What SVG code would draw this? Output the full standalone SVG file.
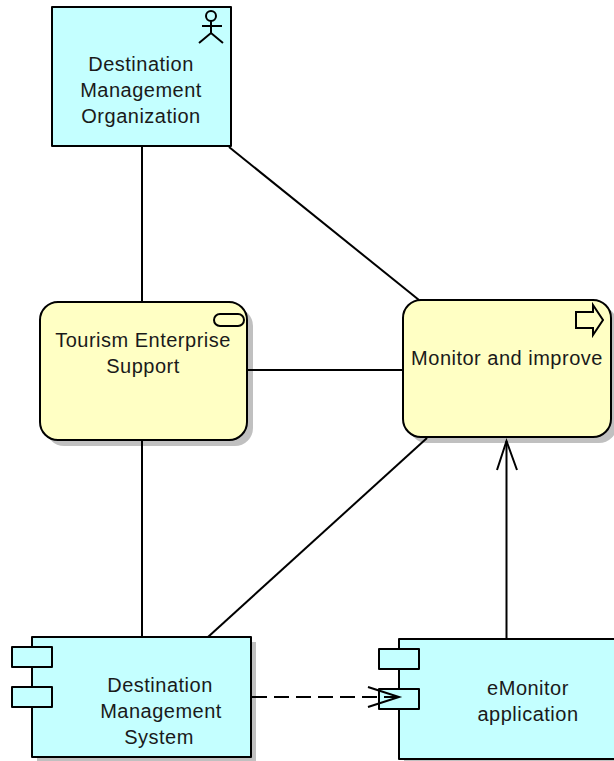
<svg xmlns="http://www.w3.org/2000/svg" width="614" height="761" viewBox="0 0 614 761">
<style>
.n{stroke:#000;stroke-width:2;stroke-linejoin:round}
.c{fill:#c4ffff}.y{fill:#ffffc4}
.s{fill:#c0c0c0;stroke:none}
.l{fill:none;stroke:#000;stroke-width:2}
text{font-family:"Liberation Sans",Arial,sans-serif;font-size:20px;fill:#1a1a1a;text-anchor:middle;letter-spacing:.5px}
</style>
<rect width="614" height="761" fill="#fff"/>
<g id="org">
<rect class="n c" x="52" y="7" width="179" height="139"/>
<circle cx="211" cy="16" r="5" fill="none" stroke="#000" stroke-width="2"/>
<path class="l" d="M211 21V33M202 26H222M199 43L211 33L223 43"/>
<text x="141" y="71">Destination</text>
<text x="141" y="97">Management</text>
<text x="141" y="123">Organization</text>
</g>
<g id="tourism">
<rect class="s" x="46" y="308" width="207" height="138" rx="18"/>
<rect class="n y" x="40" y="302" width="207" height="138" rx="18"/>
<rect class="l" x="214" y="314" width="30" height="12" rx="6"/>
<text x="143" y="347">Tourism Enterprise</text>
<text x="143" y="373">Support</text>
</g>
<g id="monitor">
<rect class="s" x="409" y="306" width="208" height="137" rx="18"/>
<rect class="n y" x="403" y="300" width="208" height="137" rx="18"/>
<path class="l" d="M576 312H593V305L603 320L593 335V328H576Z"/>
<text x="507" y="365">Monitor and improve</text>
</g>
<g id="dms">
<rect class="s" x="37" y="642" width="219" height="120"/>
<rect class="n c" x="32" y="637" width="219" height="120"/>
<rect class="n c" x="12" y="647" width="40" height="20"/>
<rect class="n c" x="12" y="687" width="40" height="20"/>
<text x="160" y="692">Destination</text>
<text x="161" y="718">Management</text>
<text x="159" y="744">System</text>
</g>
<g id="emonitor">
<rect class="s" x="404" y="644" width="219" height="120"/>
<rect class="n c" x="399" y="639" width="219" height="120"/>
<rect class="n c" x="379" y="649" width="40" height="20"/>
<rect class="n c" x="379" y="689" width="40" height="20"/>
<text x="528" y="695">eMonitor</text>
<text x="528" y="721">application</text>
</g>
<g id="connectors">
<path class="l" d="M142 146V302"/>
<path class="l" d="M229 147L419 300"/>
<path class="l" d="M142 440V637"/>
<path class="l" d="M247 370H403"/>
<path class="l" d="M427 438L208 637"/>
<path class="l" d="M506.500 639V441"/>
<path class="l" d="M497 470L506.500 441L517 470"/>
<path class="l" stroke-dasharray="15 7" d="M252 697H399"/>
<path class="l" d="M368 687L399 697L368 707"/>
</g>
</svg>
